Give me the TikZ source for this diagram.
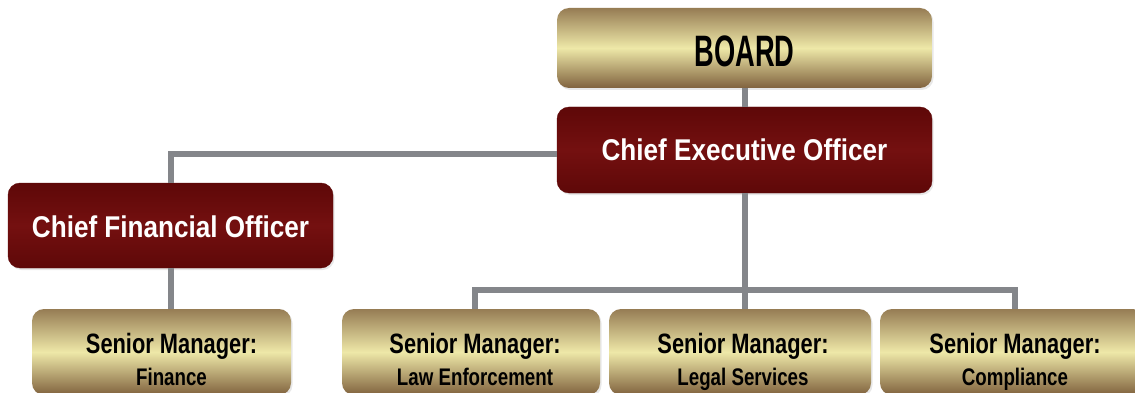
\documentclass[tikz,border=0pt]{standalone}
\usepackage{fontspec}
\setmainfont{Liberation Sans}
\newfontfamily\goldfont[FakeStretch=0.78]{Liberation Sans}
\newfontfamily\boardfont[FakeStretch=0.62]{Liberation Sans}
\newfontfamily\redfont[FakeStretch=0.87]{Liberation Sans}
\usetikzlibrary{shadows,positioning}

\definecolor{goldtop}{RGB}{150,124,84}
\definecolor{goldmid}{RGB}{238,232,168}
\definecolor{goldbot}{RGB}{128,98,62}
\definecolor{wine}{RGB}{116,16,16}
\definecolor{winedark}{RGB}{94,8,8}
\definecolor{linkgray}{RGB}{132,134,138}

\tikzset{%
  box/.style={rounded corners=12pt, inner sep=0pt,
    drop shadow={shadow xshift=1.5pt, shadow yshift=-2pt, opacity=.18}},
  goldbox/.style={box, top color=goldtop, bottom color=goldbot, middle color=goldmid,
    font=\boardfont\bfseries\fontsize{44}{44}\selectfont},
  winebox/.style={box, top color=winedark, bottom color=winedark, middle color=wine,
    draw=winedark, text=white, font=\redfont\bfseries\fontsize{30}{30}\selectfont},
  boxtext/.style={anchor=north, inner sep=0pt, align=center,
    font=\goldfont\bfseries\fontsize{28}{32}\selectfont},
  link/.style={draw=linkgray, line width=6pt} % grey connectors
}

\begin{document}
\begin{tikzpicture}[x=1pt, y=-1pt]
  \useasboundingbox (0,0) rectangle (1135,393);
  \clip (0,0) rectangle (1135,393);
  \fill[white] (0,0) rectangle (1135,393);

  \node[goldbox, minimum width=375pt, minimum height=80pt, text height=38pt] (board) at (744.5,48) {BOARD};
  \node[winebox, minimum width=375pt, minimum height=86pt] (ceo) at (744.5,150) {Chief Executive Officer};
  \node[winebox, minimum width=325pt, minimum height=85pt, text height=25pt] (cfo) at (170.5,225.5) {Chief Financial Officer};

  % senior managers, text centred on the drop lines
  \foreach \n/\x/\w/\tx/\txt in {fin/161.5/259/171.5/Finance,
      law/471/258/475/Law Enforcement,
      legal/740/262/743/Legal Services,
      comp/1012.5/265/1015/Compliance}{%
    \node[goldbox, minimum width=\w pt, minimum height=86pt] (\n) at (\x,352) {};
    \node[boxtext] (t\n) at (\tx,332.6) {Senior Manager:\\{\fontsize{24}{32}\selectfont\txt}};
  }

  \coordinate (bus) at (744.5,290);
  \draw[link] (board) -- (ceo);
  \draw[link] ([yshift=-4.5pt]ceo.west) -| (cfo);
  \draw[link] (cfo.south) -- (cfo.south |- fin.north);
  \draw[link] (ceo) -- (bus) -- (legal.north -| bus);
  \draw[link] (law.north -| tlaw) |- (bus) -| (comp.north -| tcomp);
\end{tikzpicture}
\end{document}
